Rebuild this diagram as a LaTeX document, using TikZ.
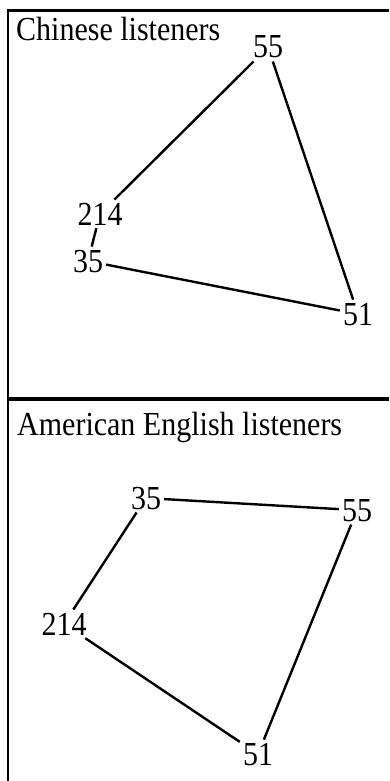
\documentclass[tikz,border=0pt]{standalone}
\usepackage{fontspec}
\setmainfont{Liberation Serif}
\newcommand{\tall}[1]{\scalebox{1}[1.12]{#1}}
\begin{document}
\begin{tikzpicture}[x=1pt,y=-1pt,
  lbl/.style={font=\fontsize{30}{36}\selectfont, inner sep=3pt, anchor=base},
  ttl/.style={font=\fontsize{30}{36}\selectfont, inner sep=0pt, anchor=base west},
  edge/.style={line width=2.4pt},
  frame/.style={line width=3pt}]
\useasboundingbox (0,0) rectangle (389,781);
% frames
\draw[line width=2pt] (8,10) -- (8,781);
\draw[frame] (7,11) -- (389,11);
\draw[line width=4pt] (7,399) -- (389,399);
% titles
\node[ttl] (t1) at (16,41) {\tall{Chinese listeners}};
\node[ttl] (t2) at (17,435) {\tall{American English listeners}};
% top panel
\node[lbl] (a55) at (268,58) {\tall{55}};
\node[lbl] (a214) at (100,225) {\tall{214}};
\node[lbl] (a35) at (88,272) {\tall{35}};
\node[lbl] (a51) at (358,325) {\tall{51}};
\draw[edge] (a55) -- (a214);
\draw[edge] (a55) -- (a51);
\draw[edge] (a214) -- (a35);
\draw[edge] (a35) -- (a51);
% bottom panel
\node[lbl] (b35) at (146,509) {\tall{35}};
\node[lbl] (b55) at (357,521) {\tall{55}};
\node[lbl] (b214) at (64,635) {\tall{214}};
\node[lbl] (b51) at (258,765) {\tall{51}};
\draw[edge] (b35) -- (b55);
\draw[edge] (b55) -- (b51);
\draw[edge] (b35) -- (b214);
\draw[edge] (b214) -- (b51);
\end{tikzpicture}
\end{document}
